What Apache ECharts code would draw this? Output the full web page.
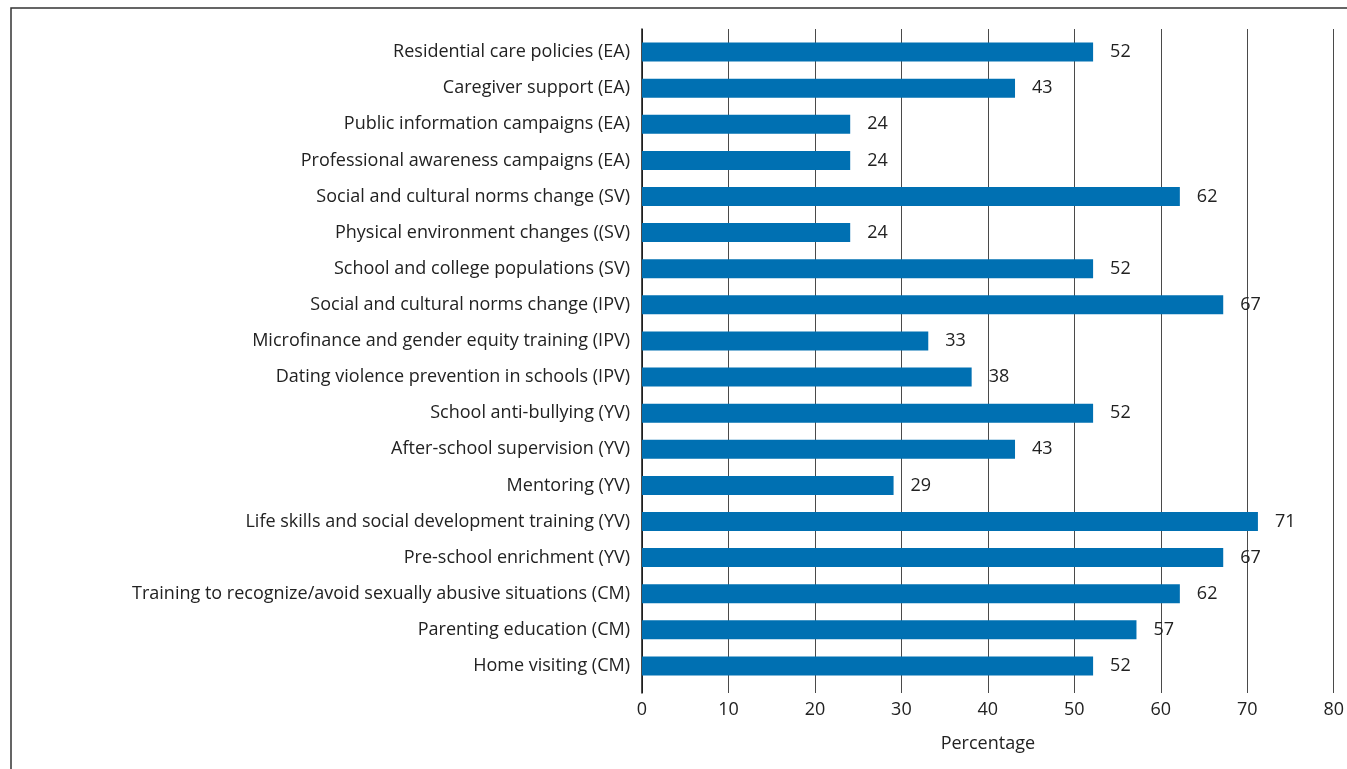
<!DOCTYPE html>
<html>
<head>
<meta charset="utf-8">
<script src="https://cdn.jsdelivr.net/npm/echarts@6/dist/echarts.min.js"></script>
<style>html,body{margin:0;padding:0;background:#fff;}#c{width:1347px;height:769px;}</style>
</head>
<body>
<div id="c"></div>
<script>
const categories = [
  "Residential care policies (EA)",
  "Caregiver support (EA)",
  "Public information campaigns (EA)",
  "Professional awareness campaigns (EA)",
  "Social and cultural norms change (SV)",
  "Physical environment changes ((SV)",
  "School and college populations (SV)",
  "Social and cultural norms change (IPV)",
  "Microfinance and gender equity training (IPV)",
  "Dating violence prevention in schools (IPV)",
  "School anti-bullying (YV)",
  "After-school supervision (YV)",
  "Mentoring (YV)",
  "Life skills and social development training (YV)",
  "Pre-school enrichment (YV)",
  "Training to recognize/avoid sexually abusive situations (CM)",
  "Parenting education (CM)",
  "Home visiting (CM)"
];
const values = [52, 43, 24, 24, 62, 24, 52, 67, 33, 38, 52, 43, 29, 71, 67, 62, 57, 52];
const axisTitle = "Percentage";

const FONT = "Open Sans";
const chart = echarts.init(document.getElementById('c'), null, {renderer: 'canvas'});
chart.setOption({
  animation: false,
  backgroundColor: '#fff',
  textStyle: {fontFamily: FONT},
  graphic: [{
    type: 'rect', z: 100,
    shape: {x: 11, y: 8, width: 1400, height: 800},
    style: {fill: 'none', stroke: '#333', lineWidth: 1.5}
  }],
  grid: [
    {left: 642, right: 11, top: 29, bottom: 76},
    {left: 642, right: 11, top: 34, bottom: 85}
  ],
  xAxis: [
    {
      gridIndex: 0, type: 'value', min: 0, max: 80, interval: 10,
      name: axisTitle, nameLocation: 'middle', nameGap: 42,
      nameTextStyle: {fontFamily: FONT, fontSize: 18, color: '#222'},
      axisLine: {show: false}, axisTick: {show: false},
      axisLabel: {fontFamily: FONT, fontSize: 18, color: '#222', margin: 8},
      splitLine: {show: true, lineStyle: {color: '#4a4a4a', width: 1}}
    },
    {
      gridIndex: 1, type: 'value', min: 0, max: 80, interval: 10,
      show: false, splitLine: {show: false}
    }
  ],
  yAxis: [
    {
      gridIndex: 0, type: 'value', min: 0, max: 1, show: true,
      axisLine: {show: true, onZero: false, lineStyle: {color: '#111', width: 1.5}},
      axisTick: {show: false}, axisLabel: {show: false}, splitLine: {show: false}
    },
    {
      gridIndex: 1, type: 'category', data: categories, inverse: true,
      axisLine: {show: false}, axisTick: {show: false}, splitLine: {show: false},
      axisLabel: {fontFamily: FONT, fontSize: 18, color: '#222', margin: 12, padding: [2, 0, 0, 0]}
    }
  ],
  series: [{
    type: 'bar', xAxisIndex: 1, yAxisIndex: 1,
    data: values, barWidth: 19,
    itemStyle: {color: '#0070b2'},
    z: 2,
    label: {show: true, position: 'right', distance: 17, fontFamily: FONT, fontSize: 18, color: '#222', padding: [3, 0, 0, 0]}
  }]
});
</script>
</body>
</html>
